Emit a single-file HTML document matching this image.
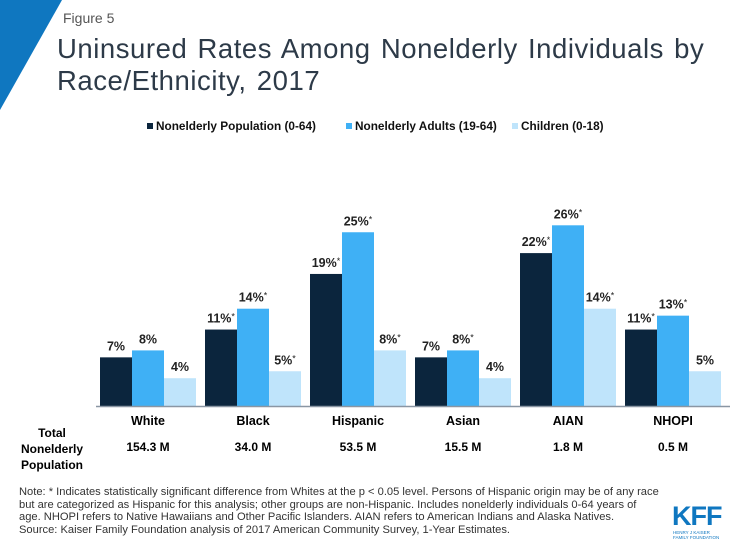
<!DOCTYPE html>
<html><head><meta charset="utf-8"><style>
body{margin:0;background:#fff;font-family:"Liberation Sans",Arial,sans-serif;}
#wrap{position:relative;width:735px;height:551px;overflow:hidden;background:#fff;}
.t{position:absolute;white-space:nowrap;}
</style></head><body>
<div id="wrap">
<svg width="735" height="551" style="position:absolute;left:0;top:0">
<polygon points="0,0 62,0 0,110" fill="#0f77c0"/>
</svg>
<div class="t" style="left:63px;top:10px;font-size:14px;color:#555">Figure 5</div>
<div class="t" style="left:57px;top:33px;font-size:27.5px;line-height:32px;color:#2d3a48;letter-spacing:0.55px;word-spacing:2px">Uninsured Rates Among Nonelderly Individuals by<br>Race/Ethnicity, 2017</div>
<svg id="chart" width="735" height="551" style="position:absolute;left:0;top:0"></svg>
<div class="t" style="left:21px;top:425px;font-size:12px;font-weight:bold;line-height:16px;text-align:center;width:62px;color:#000">Total<br>Nonelderly<br>Population</div>
<div class="t" style="left:19px;top:486px;font-size:11.15px;line-height:12.6px;color:#333">Note: * Indicates statistically significant difference from Whites at the p &lt; 0.05 level. Persons of Hispanic origin may be of any race<br>but are categorized as Hispanic for this analysis; other groups are non-Hispanic. Includes nonelderly individuals 0-64 years of<br>age. NHOPI refers to Native Hawaiians and Other Pacific Islanders. AIAN refers to American Indians and Alaska Natives.<br>Source: Kaiser Family Foundation analysis of 2017 American Community Survey, 1-Year Estimates.</div>
<div class="t" style="left:672px;top:501px;font-size:27px;font-weight:bold;color:#0f77c0;letter-spacing:-1px">KFF</div>
<div class="t" style="left:673px;top:530px;font-size:4.5px;line-height:5px;color:#0f77c0">HENRY J KAISER<br>FAMILY FOUNDATION</div>
</div>
<script>
const categories=["White","Black","Hispanic","Asian","AIAN","NHOPI"];
const populations=["154.3 M","34.0 M","53.5 M","15.5 M","1.8 M","0.5 M"];
const seriesNames=["Nonelderly Population (0-64)","Nonelderly Adults (19-64)","Children (0-18)"];
const popValues=[7,11,19,7,22,11];
const adultValues=[8,14,25,8,26,13];
const childValues=[4,5,8,4,14,5];
const popSig=[false,true,true,false,true,true];
const adultSig=[false,true,true,true,true,true];
const childSig=[false,true,true,false,true,false];
const colors=["#0b253d","#3fb0f5","#bfe4fb"];
const NS="http://www.w3.org/2000/svg";
const svg=document.getElementById("chart");
const baseY=406, pxPer=6.95, x0=100, groupW=105, barW=32;
function y(v){return baseY-v*pxPer;}
function xb(i,s){return x0+i*groupW+s*barW;}
function mk(tag,attrs){const e=document.createElementNS(NS,tag);for(const k in attrs)e.setAttribute(k,attrs[k]);svg.appendChild(e);return e;}
const series=[[popValues,popSig],[adultValues,adultSig],[childValues,childSig]];
series.forEach(([vals,sig],s)=>{
  vals.forEach((v,i)=>{
    const r=mk("rect",{x:xb(i,s),y:y(v),width:barW,height:v*pxPer,fill:colors[s]});
    
    
    const t=mk("text",{x:xb(i,s)+barW/2,y:y(v)-7,"text-anchor":"middle","font-size":"12.5","font-weight":"bold",fill:"#222"});
    t.textContent=v+"%";
    if(sig[i]){const ts=document.createElementNS(NS,"tspan");ts.setAttribute("font-size","9");ts.setAttribute("font-weight","normal");ts.setAttribute("dy","-3");ts.textContent="*";t.appendChild(ts);}
    
    
  });
});
const ax=mk("line",{x1:96,x2:730,y1:baseY+0.5,y2:baseY+0.5,stroke:"#8a96a3","stroke-width":1.5});


categories.forEach((c,i)=>{
  const cx=x0+i*groupW+barW*1.5;
  const t=mk("text",{x:cx,y:425,"text-anchor":"middle","font-size":"12.5","font-weight":"bold",fill:"#000"});
  t.textContent=c;
  
  
  const p=mk("text",{x:cx,y:451,"text-anchor":"middle","font-size":"12","font-weight":"bold",fill:"#000"});
  p.textContent=populations[i];
  
  
});
const legX=[147,346,512];
seriesNames.forEach((n,s)=>{
  const r=mk("rect",{x:legX[s],y:123,width:6,height:6,fill:colors[s]});
  
  
  const t=mk("text",{x:legX[s]+9,y:130,"font-size":"11.8","font-weight":"bold",fill:"#111"});
  t.textContent=n;
  
  
});
</script>
</body></html>
